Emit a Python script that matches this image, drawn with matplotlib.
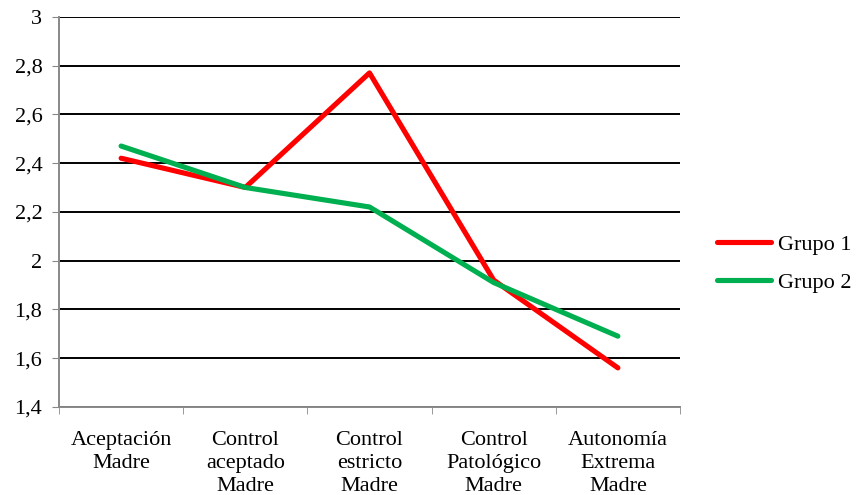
import matplotlib.pyplot as plt
from matplotlib import font_manager
from matplotlib.ticker import FixedLocator

# Medias por dimensión de la escala materna
categorias = ["Aceptación\nMadre", "Control\naceptado\nMadre", "Control\nestricto\nMadre",
              "Control\nPatológico\nMadre", "Autonomía\nExtrema\nMadre"]
grupo1 = [2.42, 2.30, 2.77, 1.92, 1.56]
grupo2 = [2.47, 2.30, 2.22, 1.91, 1.69]
yticks = [1.4, 1.6, 1.8, 2.0, 2.2, 2.4, 2.6, 2.8, 3.0]

ruta = font_manager.findfont("Liberation Serif")
fuente = font_manager.FontProperties(fname=ruta, size=16)

fig = plt.figure(figsize=(8.59, 4.95), dpi=100)
ax = fig.add_axes([0.0687, 0.178, 0.7229, 0.788])

x = range(len(categorias))
ax.plot(x, grupo1, color="#FF0000", lw=3.7, solid_capstyle="round", solid_joinstyle="round", label="Grupo 1", zorder=3)
ax.plot(x, grupo2, color="#00B050", lw=3.7, solid_capstyle="round", solid_joinstyle="round", label="Grupo 2", zorder=3)

ax.set_xlim(-0.5, len(categorias) - 0.5)
ax.set_ylim(1.4, 3.0)
ax.set_yticks(yticks)
ax.set_yticklabels([("%.1f" % v).replace(".", ",").replace(",0", "") for v in yticks])
ax.yaxis.grid(True, color="black", lw=1.4)
ax.set_axisbelow(True)

ax.set_xticks(list(x))
ax.set_xticklabels(categorias, linespacing=1.3, va="top")
ax.tick_params(axis="x", length=0, pad=17)
ax.xaxis.set_minor_locator(FixedLocator([i - 0.5 for i in range(len(categorias) + 1)]))
ax.tick_params(axis="x", which="minor", length=5, color="#888888", direction="out")
ax.tick_params(axis="y", length=5, color="#888888", pad=7)

for lab in ax.get_xticklabels() + ax.get_yticklabels():
    lab.set_fontproperties(fuente)

for s in ["top", "right"]:
    ax.spines[s].set_visible(False)
for s in ["left", "bottom"]:
    ax.spines[s].set_color("#888888")
    ax.spines[s].set_linewidth(1.4)

leg = fig.legend(loc="center left", bbox_to_anchor=(0.8347, 0.467), frameon=False,
                 borderpad=0, borderaxespad=0, handlelength=2.45, labelspacing=0.78,
                 handletextpad=0.3, prop=fuente)

fig.savefig("out.png", dpi=100)
